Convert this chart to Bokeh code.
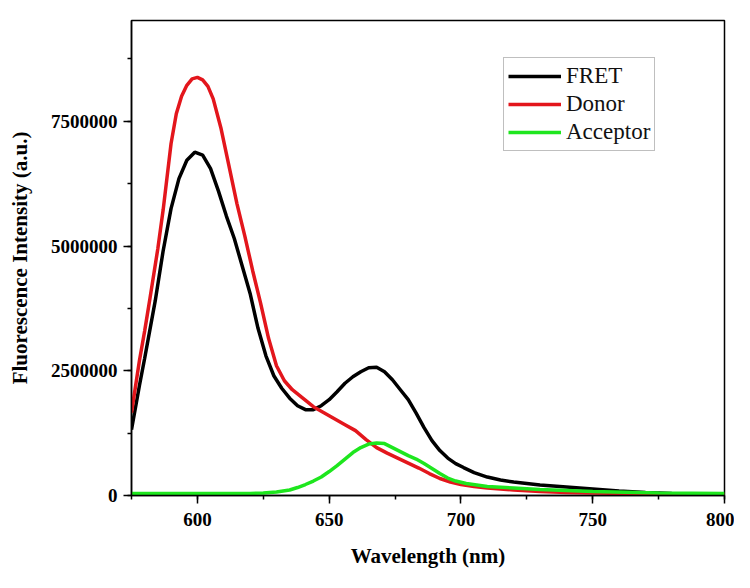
from bokeh.plotting import figure
from bokeh.models import Range1d, SingleIntervalTicker, BasicTickFormatter, Legend, LegendItem
from bokeh.embed import file_html
from bokeh.resources import INLINE

# FRET spectrum (wavelength nm, intensity a.u.)
fret_wl = [575, 578, 580, 584, 587, 590, 593, 596, 599, 602, 605, 608, 611, 614, 617, 620,
           623, 626, 629, 632, 635, 638, 641, 644, 647, 650, 653, 656, 659, 662, 665, 668,
           671, 674, 677, 680, 683, 686, 689, 692, 695, 698, 701, 705, 710, 715, 720, 725,
           730, 735, 740, 745, 750, 760, 770, 780, 790, 800]
fret_int = [1.32e6, 2.2e6, 2.75e6, 3.9e6, 4.9e6, 5.75e6, 6.35e6, 6.72e6, 6.88e6, 6.82e6,
            6.55e6, 6.1e6, 5.6e6, 5.15e6, 4.6e6, 4.05e6, 3.35e6, 2.8e6, 2.4e6, 2.15e6,
            1.95e6, 1.8e6, 1.72e6, 1.72e6, 1.8e6, 1.92e6, 2.08e6, 2.25e6, 2.38e6, 2.48e6,
            2.56e6, 2.57e6, 2.48e6, 2.32e6, 2.12e6, 1.92e6, 1.65e6, 1.36e6, 1.1e6, 0.9e6,
            0.75e6, 0.64e6, 0.56e6, 0.46e6, 0.37e6, 0.31e6, 0.27e6, 0.24e6, 0.21e6, 0.19e6,
            0.17e6, 0.15e6, 0.13e6, 0.09e6, 0.06e6, 0.04e6, 0.03e6, 0.03e6]

# Donor spectrum
donor_wl = [575, 578, 580, 582, 585, 587, 590, 592, 594, 596, 598, 600, 602, 604, 606, 609,
            612, 615, 618, 621, 624, 627, 630, 633, 636, 640, 644, 648, 652, 656, 660, 664,
            668, 672, 676, 680, 684, 688, 692, 696, 700, 705, 710, 720, 730, 740, 750, 775, 800]
donor_int = [1.66e6, 2.7e6, 3.3e6, 3.95e6, 4.95e6, 5.72e6, 7.05e6, 7.65e6, 8.0e6, 8.22e6,
             8.35e6, 8.38e6, 8.33e6, 8.2e6, 7.95e6, 7.35e6, 6.6e6, 5.85e6, 5.2e6, 4.5e6,
             3.85e6, 3.15e6, 2.6e6, 2.3e6, 2.12e6, 1.95e6, 1.78e6, 1.66e6, 1.54e6, 1.42e6,
             1.3e6, 1.12e6, 0.96e6, 0.85e6, 0.75e6, 0.65e6, 0.55e6, 0.44e6, 0.34e6, 0.27e6,
             0.22e6, 0.18e6, 0.15e6, 0.11e6, 0.08e6, 0.06e6, 0.05e6, 0.03e6, 0.02e6]

# Acceptor spectrum
acc_wl = [575, 590, 600, 610, 620, 625, 630, 635, 638, 641, 644, 647, 650, 653, 656, 659,
          662, 665, 668, 671, 674, 677, 680, 683, 686, 689, 692, 695, 698, 702, 706, 710,
          720, 730, 740, 750, 775, 800]
acc_int = [0.04e6, 0.04e6, 0.04e6, 0.04e6, 0.04e6, 0.05e6, 0.07e6, 0.11e6, 0.16e6, 0.22e6,
           0.29e6, 0.37e6, 0.48e6, 0.6e6, 0.73e6, 0.86e6, 0.96e6, 1.03e6, 1.05e6, 1.04e6,
           0.96e6, 0.88e6, 0.8e6, 0.73e6, 0.64e6, 0.54e6, 0.44e6, 0.35e6, 0.29e6, 0.24e6,
           0.21e6, 0.18e6, 0.15e6, 0.12e6, 0.1e6, 0.08e6, 0.05e6, 0.04e6]

series_names = ["FRET", "Donor", "Acceptor"]
series_colors = ["#000000", "#e3161c", "#1ee61e"]

p = figure(width=734, height=570, output_backend="svg", toolbar_location=None,
           x_range=Range1d(575, 800), y_range=Range1d(0, 9.52e6),
           min_border_left=131, min_border_right=10, min_border_top=20, min_border_bottom=74)

p.grid.visible = False
p.outline_line_color = "black"
p.outline_line_width = 1.5
p.background_fill_color = "white"
p.border_fill_color = "white"

r_fret = p.line(fret_wl, fret_int, line_color=series_colors[0], line_width=3.5)
r_donor = p.line(donor_wl, donor_int, line_color=series_colors[1], line_width=3.5)
r_acc = p.line(acc_wl, acc_int, line_color=series_colors[2], line_width=3.5)

p.xaxis.ticker = SingleIntervalTicker(interval=50, num_minor_ticks=2)
p.yaxis.ticker = SingleIntervalTicker(interval=2500000, num_minor_ticks=2)
p.yaxis.formatter = BasicTickFormatter(use_scientific=False)

for ax in (p.xaxis[0], p.yaxis[0]):
    ax.axis_line_color = "black"
    ax.axis_line_width = 1.5
    ax.major_tick_line_color = "black"
    ax.major_tick_line_width = 1.5
    ax.minor_tick_line_color = "black"
    ax.minor_tick_line_width = 1.5
    ax.major_tick_in = 0
    ax.major_tick_out = 8
    ax.minor_tick_in = 0
    ax.minor_tick_out = 4
    ax.major_label_text_font = "Liberation Serif"
    ax.major_label_text_font_style = "bold"
    ax.major_label_text_font_size = "19px"
    ax.major_label_text_color = "black"
    ax.axis_label_text_font = "Liberation Serif"
    ax.axis_label_text_font_style = "bold"
    ax.axis_label_text_font_size = "21px"
    ax.axis_label_text_color = "black"

p.xaxis.major_label_standoff = 9
p.yaxis.major_label_standoff = 6
p.xaxis.axis_label = "Wavelength (nm)"
p.yaxis.axis_label = "Fluorescence Intensity (a.u.)"
p.xaxis.axis_label_standoff = 15
p.yaxis.axis_label_standoff = 16

legend = Legend(items=[LegendItem(label=series_names[0], renderers=[r_fret]),
                       LegendItem(label=series_names[1], renderers=[r_donor]),
                       LegendItem(label=series_names[2], renderers=[r_acc])],
                location=(372, 344))
legend.label_text_font = "Liberation Serif"
legend.label_text_font_size = "23px"
legend.label_text_color = "#111111"
legend.glyph_width = 53
legend.glyph_height = 28
legend.label_height = 28
legend.label_standoff = 5
legend.spacing = 0
legend.padding = 4
legend.margin = 0
legend.border_line_color = "#808080"
legend.border_line_width = 1
legend.background_fill_alpha = 1
p.add_layout(legend)

open("out.html", "w").write(file_html(p, INLINE))
